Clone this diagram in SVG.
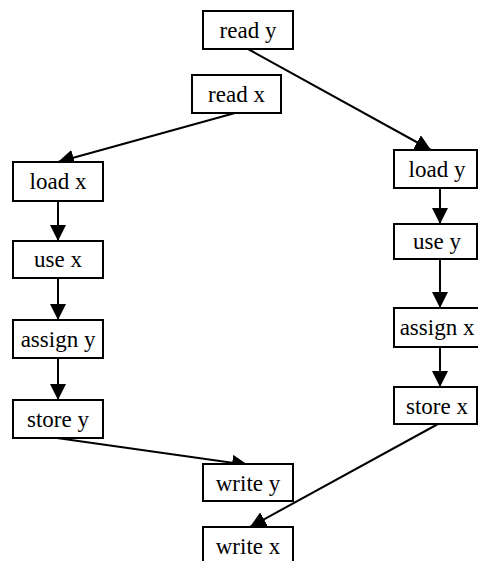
<svg xmlns="http://www.w3.org/2000/svg" width="478" height="561" viewBox="0 0 478 561">
<defs>
<style>
.box{fill:#fff;stroke:#000;stroke-width:2}
.lbl{font-family:"Liberation Serif","Times New Roman",serif;font-size:23px;fill:#000;text-anchor:middle}
.edge{stroke:#000;stroke-width:2;fill:none;marker-end:url(#ah)}
</style>
<marker id="ah" viewBox="0 0 16 16" refX="16" refY="8" markerWidth="16" markerHeight="16" markerUnits="userSpaceOnUse" orient="auto">
<path d="M0,0 L16,8 L0,16 Z" fill="#000"/>
</marker>
</defs>
<rect width="478" height="561" fill="#fff"/>
<g id="connectors">
<line class="edge" x1="248" y1="49" x2="431" y2="150"/>
<line class="edge" x1="235" y1="113" x2="58" y2="162"/>
<line class="edge" x1="58" y1="201" x2="58" y2="241"/>
<line class="edge" x1="58" y1="278" x2="58" y2="320"/>
<line class="edge" x1="58" y1="358" x2="58" y2="400"/>
<line class="edge" x1="440" y1="188" x2="440" y2="224"/>
<line class="edge" x1="440" y1="259" x2="440" y2="308"/>
<line class="edge" x1="440" y1="347" x2="440" y2="387"/>
<line class="edge" x1="57" y1="438" x2="248" y2="465"/>
<line class="edge" x1="438" y1="424" x2="250" y2="527"/>
</g>
<g id="n-read-y"><rect class="box" x="203" y="11" width="90" height="38"/><text class="lbl" x="248" y="38">read y</text></g>
<g id="n-read-x"><rect class="box" x="192" y="75" width="89" height="38"/><text class="lbl" x="236.5" y="102">read x</text></g>
<g id="n-load-x"><rect class="box" x="13" y="162" width="90" height="39"/><text class="lbl" x="58" y="189">load x</text></g>
<g id="n-use-x"><rect class="box" x="13" y="241" width="90" height="37"/><text class="lbl" x="58" y="267">use x</text></g>
<g id="n-assign-y"><rect class="box" x="13" y="320" width="90" height="38"/><text class="lbl" x="58" y="347">assign y</text></g>
<g id="n-store-y"><rect class="box" x="13" y="400" width="90" height="38"/><text class="lbl" x="58" y="427">store y</text></g>
<g id="n-load-y"><rect class="box" x="394" y="150" width="83" height="38"/><text class="lbl" x="437" y="177">load y</text></g>
<g id="n-use-y"><rect class="box" x="394" y="224" width="83" height="35"/><text class="lbl" x="437" y="249">use y</text></g>
<g id="n-assign-x"><rect class="box" x="394" y="308" width="90" height="39"/><text class="lbl" x="437" y="335">assign x</text></g>
<g id="n-store-x"><rect class="box" x="394" y="387" width="83" height="37"/><text class="lbl" x="437" y="414">store x</text></g>
<g id="n-write-y"><rect class="box" x="203" y="464" width="90" height="37"/><text class="lbl" x="248" y="491">write y</text></g>
<g id="n-write-x"><rect class="box" x="203" y="527" width="90" height="40"/><text class="lbl" x="248" y="554">write x</text></g>
</svg>
